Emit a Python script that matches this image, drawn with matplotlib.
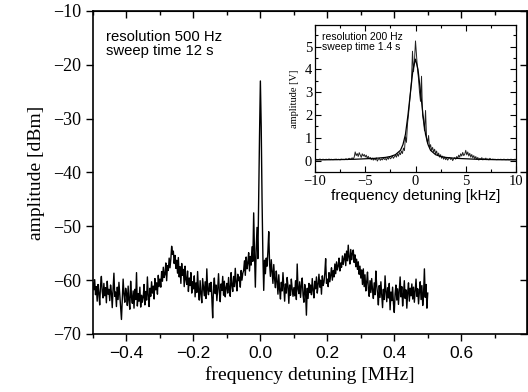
import numpy as np
import matplotlib.pyplot as plt
from matplotlib.ticker import MultipleLocator

SERIF = 'Liberation Serif'
SANS = 'Liberation Sans'

# main spectrum, one row = 0.05 MHz (step 2.5 kHz)
spec_dbm = [
    -60.5, -61.8, -59.9, -62.7, -61.2, -63.9, -60.8, -62.4, -64.6, -61.0, -59.3, -62.1, -63.3, -60.6, -62.9, -61.4, -64.2, -60.2, -62.6, -61.7,
    -63.8, -60.9, -62.3, -65.1, -61.6, -58.7, -63.0, -62.2, -64.9, -61.3, -63.6, -60.4, -62.8, -65.3, -67.3, -63.4, -59.8, -62.6, -64.1, -61.5,
    -62.4, -64.7, -61.1, -63.8, -65.4, -60.2, -63.1, -64.3, -62.0, -65.2, -61.7, -63.6, -58.6, -64.8, -62.5, -63.9, -61.3, -65.0, -62.8, -64.1,
    -63.2, -60.8, -64.6, -62.1, -63.7, -59.4, -62.9, -64.9, -61.5, -63.0, -60.3, -62.4, -61.1, -63.5, -59.7, -61.8, -60.5, -62.6, -59.1, -61.2,
    -59.8, -61.3, -58.4, -60.2, -57.6, -59.5, -58.9, -56.8, -60.1, -57.3, -58.2, -55.9, -57.7, -56.1, -53.7, -55.2, -54.6, -56.9, -55.4, -57.8,
    -56.3, -58.7, -55.8, -59.4, -57.5, -60.6, -56.9, -59.1, -58.0, -61.2, -57.4, -59.9, -60.8, -58.3, -62.1, -59.6, -61.0, -58.6, -62.4, -60.3,
    -61.6, -59.2, -63.1, -60.5, -62.3, -58.4, -61.9, -63.7, -60.1, -62.6, -64.2, -59.7, -61.4, -62.9, -60.3, -63.4, -57.9, -61.8, -62.7, -60.6,
    -62.1, -60.4, -63.3, -67.0, -61.2, -59.6, -62.5, -60.9, -63.8, -61.7, -58.8, -62.2, -64.0, -60.7, -61.9, -59.3, -62.8, -60.2, -63.1, -61.4,
    -60.6, -62.4, -59.5, -61.7, -63.0, -58.6, -60.9, -62.1, -59.3, -61.2, -57.8, -60.4, -62.0, -58.9, -60.1, -59.4, -61.3, -58.2, -60.0, -58.7,
    -58.2, -56.4, -59.1, -55.7, -57.9, -56.8, -54.9, -58.3, -55.6, -57.2, -53.8, -56.5, -47.5, -55.1, -61.3, -54.2, -50.2, -56.0, -44.0, -33.0,
    -23.0, -31.5, -45.0, -55.5, -61.9, -56.3, -58.8, -55.9, -57.4, -54.6, -51.0, -57.0, -59.3, -56.2, -58.5, -60.6, -57.1, -59.8, -61.4, -58.3,
    -60.2, -62.6, -59.0, -61.8, -63.5, -60.4, -62.0, -58.6, -61.3, -63.9, -60.7, -62.4, -59.5, -61.1, -64.3, -60.9, -62.8, -59.8, -61.6, -63.0,
    -61.4, -62.9, -60.1, -63.6, -57.0, -61.7, -62.5, -60.3, -63.2, -61.0, -59.6, -62.8, -64.1, -60.8, -62.2, -66.5, -61.5, -63.4, -60.6, -62.3,
    -60.9, -62.7, -59.7, -61.9, -63.3, -60.2, -61.6, -59.4, -62.4, -60.8, -58.9, -61.3, -60.0, -62.6, -59.2, -61.0, -60.4, -58.7, -56.0, -60.6,
    -59.8, -61.2, -58.6, -60.3, -59.1, -57.7, -60.0, -58.2, -59.4, -57.0, -58.8, -56.6, -58.1, -57.4, -55.9, -58.3, -56.8, -57.6, -55.5, -57.1,
    -56.0, -55.1, -57.3, -54.6, -56.4, -53.5, -55.8, -57.0, -54.3, -56.2, -55.0, -54.4, -56.7, -55.3, -57.5, -56.1, -58.0, -56.6, -58.9, -57.4,
    -59.6, -58.1, -60.8, -57.9, -61.2, -59.0, -62.0, -60.4, -58.5, -61.6, -63.0, -60.1, -62.3, -59.7, -61.8, -63.4, -60.5, -62.7, -58.3, -61.1,
    -62.4, -64.6, -61.0, -63.2, -60.3, -62.8, -65.1, -61.7, -63.6, -59.2, -62.1, -64.0, -61.4, -63.3, -60.6, -65.5, -62.2, -63.8, -61.3, -64.3,
    -66.0, -62.5, -60.9, -63.7, -61.6, -64.5, -62.0, -59.4, -63.1, -61.2, -64.8, -62.6, -60.1, -63.4, -61.8, -65.2, -62.3, -60.5, -63.9, -61.5,
    -62.9, -60.7, -63.5, -61.3, -64.1, -62.0, -59.8, -63.0, -61.6, -64.4, -62.2, -60.3, -63.6, -61.0, -64.7, -62.5, -57.9, -63.2, -60.8, -65.2,
    -62.4,
]
freq_mhz = np.linspace(-0.5, 0.5, len(spec_dbm))

# inset: measured trace, one row = 1 kHz (step 0.1 kHz)
inset_v = [
    0.05, 0.06, 0.04, 0.05, 0.05, 0.07, 0.04, 0.05, 0.06, 0.05,
    0.04, 0.06, 0.05, 0.05, 0.07, 0.04, 0.06, 0.05, 0.04, 0.06,
    0.05, 0.07, 0.04, 0.06, 0.05, 0.03, 0.07, 0.05, 0.06, 0.04,
    0.06, 0.08, 0.04, 0.07, 0.10, 0.05, 0.09, 0.12, 0.07, 0.15,
    0.38, 0.22, 0.31, 0.18, 0.35, 0.25, 0.14, 0.30, 0.20, 0.27,
    0.16, 0.24, 0.10, 0.19, 0.08, 0.14, 0.04, 0.11, 0.02, 0.09,
    0.03, 0.12, -0.02, 0.06, 0.10, 0.01, 0.08, 0.03, 0.13, 0.05,
    0.09, 0.02, 0.14, 0.06, 0.18, 0.08, 0.12, 0.21, 0.10, 0.17,
    0.24, 0.15, 0.30, 0.19, 0.35, 0.26, 0.42, 0.31, 0.55, 0.44,
    1.05, 0.80, 1.60, 2.00, 2.50, 3.00, 3.50, 4.80, 3.90, 4.40,
    5.25,
    4.60, 4.00, 3.60, 3.00, 2.60, 3.70, 2.00, 1.70, 1.30, 2.20,
    1.00, 0.75, 1.10, 0.55, 0.70, 0.45, 0.58, 0.38, 0.50, 0.30,
    0.42, 0.22, 0.33, 0.15, 0.26, 0.10, 0.20, 0.06, 0.16, 0.04,
    0.12, 0.02, 0.09, 0.14, 0.05, 0.11, 0.00, 0.08, 0.13, 0.06,
    0.18, 0.10, 0.24, 0.15, 0.30, 0.20, 0.36, 0.22, 0.28, 0.45,
    0.25, 0.38, 0.20, 0.32, 0.15, 0.27, 0.12, 0.22, 0.08, 0.18,
    0.05, 0.14, 0.02, 0.10, 0.06, 0.13, 0.03, 0.09, 0.05, 0.11,
    0.04, 0.08, 0.03, 0.10, 0.06, 0.05, 0.07, 0.05, 0.06, 0.05,
    0.04, 0.06, 0.05, 0.05, 0.06, 0.04, 0.05, 0.06, 0.05, 0.04,
    0.05, 0.06, 0.04, 0.05, 0.06, 0.05, 0.04, 0.05, 0.06, 0.05,
]
inset_khz = np.linspace(-10, 10, len(inset_v))

# inset: smooth fit curve
fit_khz = [-10, -8, -6, -5, -4, -3, -2.5, -2, -1.5, -1.25, -1, -0.75, -0.5, -0.25, 0,
           0.25, 0.5, 0.75, 1, 1.25, 1.5, 2, 2.5, 3, 4, 5, 6, 8, 10]
fit_v = [0.03, 0.04, 0.06, 0.08, 0.10, 0.14, 0.18, 0.26, 0.45, 0.70, 1.15, 2.0, 3.0, 4.0, 4.45,
         4.0, 3.0, 2.0, 1.15, 0.70, 0.45, 0.26, 0.18, 0.14, 0.10, 0.08, 0.06, 0.04, 0.03]

W, H = 528, 392
fig = plt.figure(figsize=(W / 100, H / 100), dpi=100)

# main panel
ax = fig.add_axes([93 / W, 1 - 334 / H, (526.5 - 93) / W, (334 - 11) / H])
ax.plot(freq_mhz, spec_dbm, color='black', lw=1.0)
ax.set_xlim(-0.5, 0.795)
ax.set_ylim(-70, -10)
ax.xaxis.set_major_locator(MultipleLocator(0.2))
ax.xaxis.set_minor_locator(MultipleLocator(0.1))
ax.yaxis.set_major_locator(MultipleLocator(10))
ax.tick_params(which='both', direction='out', width=1.0)
ax.tick_params(which='major', length=5)
ax.tick_params(which='minor', length=3)
for sp in ax.spines.values():
    sp.set_linewidth(1.2)
for lab in ax.get_xticklabels():
    lab.set_family(SANS)
    lab.set_fontsize(12.5)
for lab in ax.get_yticklabels():
    lab.set_family(SERIF)
    lab.set_fontsize(13)
ax.set_xlabel('frequency detuning [MHz]', family=SERIF, fontsize=14, labelpad=4)
ax.set_ylabel('amplitude [dBm]', family=SERIF, fontsize=14, labelpad=6)

top = ax.secondary_xaxis('top')
top.xaxis.set_major_locator(MultipleLocator(0.2))
top.xaxis.set_minor_locator(MultipleLocator(0.1))
top.tick_params(which='both', direction='in', labeltop=False, width=1.0)
top.tick_params(which='major', length=5)
top.tick_params(which='minor', length=3)
right = ax.secondary_yaxis('right')
right.yaxis.set_major_locator(MultipleLocator(10))
right.tick_params(direction='in', labelright=False, length=5, width=1.0)

ax.text(0.03, 0.94, 'resolution 500 Hz\nsweep time 12 s', transform=ax.transAxes,
        family=SANS, fontsize=10.7, va='top', ha='left', linespacing=1.0)

# inset panel
ins = fig.add_axes([315 / W, 1 - 172 / H, 201 / W, 147 / H])
ins.plot(inset_khz, inset_v, color='#222222', lw=0.7)
ins.plot(fit_khz, fit_v, color='black', lw=0.9)
ins.set_xlim(-10, 10)
ins.set_ylim(-0.5, 5.95)
ins.xaxis.set_major_locator(MultipleLocator(5))
ins.xaxis.set_minor_locator(MultipleLocator(2.5))
ins.yaxis.set_major_locator(MultipleLocator(1))
ins.yaxis.set_minor_locator(MultipleLocator(0.5))
ins.tick_params(which='both', direction='in', top=True, right=True, width=0.8, pad=2)
ins.tick_params(which='major', length=4)
ins.tick_params(which='minor', length=2)
for sp in ins.spines.values():
    sp.set_linewidth(0.9)
for lab in ins.get_xticklabels() + ins.get_yticklabels():
    lab.set_family(SERIF)
    lab.set_fontsize(10.5)
ins.set_xlabel('frequency detuning [kHz]', family=SANS, fontsize=11, labelpad=1)
ins.set_ylabel('amplitude [V]', family=SERIF, fontsize=7.5, labelpad=4)
ins.text(0.035, 0.955, 'resolution 200 Hz\nsweep time 1.4 s', transform=ins.transAxes,
         family=SANS, fontsize=7.5, va='top', ha='left', linespacing=1.0)

fig.savefig('out.png', dpi=100)
